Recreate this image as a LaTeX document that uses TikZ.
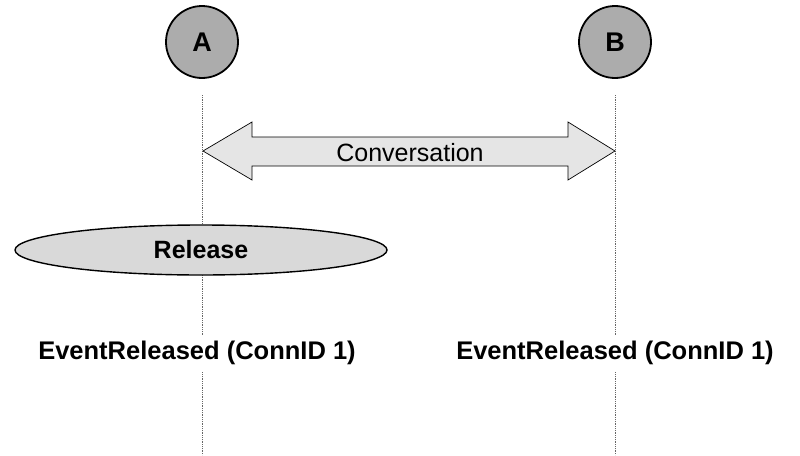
\documentclass[tikz,border=0pt]{standalone}
\usepackage{fontspec}
\setmainfont{Liberation Sans}
\usetikzlibrary{shapes.geometric,shapes.arrows}
\begin{document}
\begin{tikzpicture}[x=1pt,y=-1pt,
  party/.style={circle,draw=black,line width=1.8pt,fill=gray!65,minimum size=72pt,inner sep=0pt,font=\fontsize{27}{30}\selectfont\bfseries},
  lifeline/.style={draw=gray!80!black,densely dotted,line width=0.8pt},
  evtext/.style={fill=white,inner sep=6pt,font=\fontsize{25.5}{28}\selectfont\bfseries},
  action/.style={ellipse,draw=black,line width=1.4pt,fill=gray!30,minimum width=372pt,minimum height=50pt,inner sep=0pt,font=\fontsize{25}{28}\selectfont\bfseries}]
\useasboundingbox (0,0) rectangle (800,455);
\node[party] (A) at (202,42) {A};
\node[party] (B) at (615,42) {B};
\coordinate (Atop) at (202,95);
\coordinate (Abot) at (202,455);
\coordinate (Btop) at (615,95);
\coordinate (Bbot) at (615,455);
\draw[lifeline] (Atop) -- (Abot);
\draw[lifeline] (Btop) -- (Bbot);
% double arrow
\coordinate (L) at (203,151);
\coordinate (R) at (615,151);
\draw[black,line width=0.7pt,fill=gray!20]
  (L) -- (252,122) -- (252,137) -- (568,137) -- (568,122) -- (R)
  -- (568,180) -- (568,166) -- (252,166) -- (252,180) -- cycle;
\node[font=\fontsize{25}{28}\selectfont] (conv) at (410,153) {Conversation};
\node[action] (rel) at (201,250) {Release};
\node[evtext] (ev1) at (197,353) {EventReleased (ConnID 1)};
\node[evtext] (ev2) at (615,353) {EventReleased (ConnID 1)};
\end{tikzpicture}
\end{document}
